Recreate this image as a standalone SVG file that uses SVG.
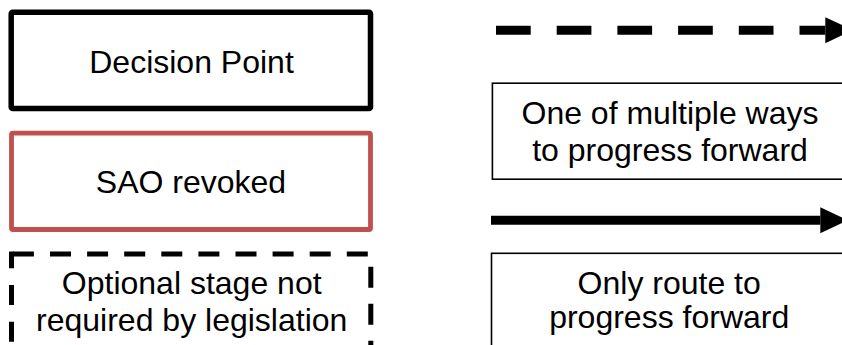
<svg xmlns="http://www.w3.org/2000/svg" width="842" height="345" viewBox="0 0 842 345">
  <style>
    .t { font-family: "Liberation Sans", Arial, sans-serif; font-size: 32px; fill: #000; text-anchor: middle; }
    .thin { fill: #fff; stroke: #000; stroke-width: 1.6; }
  </style>
  <defs>
    <marker id="head" markerUnits="userSpaceOnUse" markerWidth="28" markerHeight="26" refX="0" refY="13" orient="auto" overflow="visible">
      <path d="M0,0 L27.5,13 L0,26 Z" fill="#000"/>
    </marker>
  </defs>
  <rect width="842" height="345" fill="#fff"/>

  <g id="decision-point">
    <rect x="11.2" y="12.2" width="359.3" height="96.3" rx="1.5" fill="#fff" stroke="#000" stroke-width="5.5"/>
    <text class="t" x="191.5" y="72.7">Decision Point</text>
  </g>

  <g id="sao-revoked">
    <rect x="11.5" y="133.2" width="359" height="96.3" rx="1.5" fill="#fff" stroke="#C0504D" stroke-width="4.8"/>
    <text class="t" x="191" y="192.7">SAO revoked</text>
  </g>

  <g id="optional-stage">
    <g fill="none" stroke="#000" stroke-width="5">
      <path d="M9 254 H373" stroke-dasharray="21 16.1" stroke-dashoffset="33.2"/>
      <path d="M11.5 251.5 V345" stroke-dasharray="20 16.7" stroke-dashoffset="3.2"/>
      <path d="M370.8 251.5 V345" stroke-dasharray="21 16" stroke-dashoffset="21.8"/>
    </g>
    <text class="t" x="191.7" y="294">Optional stage not</text>
    <text class="t" x="191.7" y="330.7">required by legislation</text>
  </g>

  <g id="multiple-ways">
    <rect class="thin" x="492.4" y="83.2" width="357" height="96"/>
    <text class="t" x="670" y="124">One of multiple ways</text>
    <text class="t" x="670" y="160.7">to progress forward</text>
  </g>

  <g id="only-route">
    <rect class="thin" x="491.5" y="253.3" width="357" height="100"/>
    <text class="t" x="669.2" y="294">Only route to</text>
    <text class="t" x="669.2" y="328.3">progress forward</text>
  </g>

  <g id="connectors" fill="none" stroke="#000" stroke-width="9">
    <path d="M496 30.2 H825.3" stroke-dasharray="34.7 26" marker-end="url(#head)"/>
    <path d="M491 220.3 H820.3" marker-end="url(#head)"/>
  </g>
</svg>
